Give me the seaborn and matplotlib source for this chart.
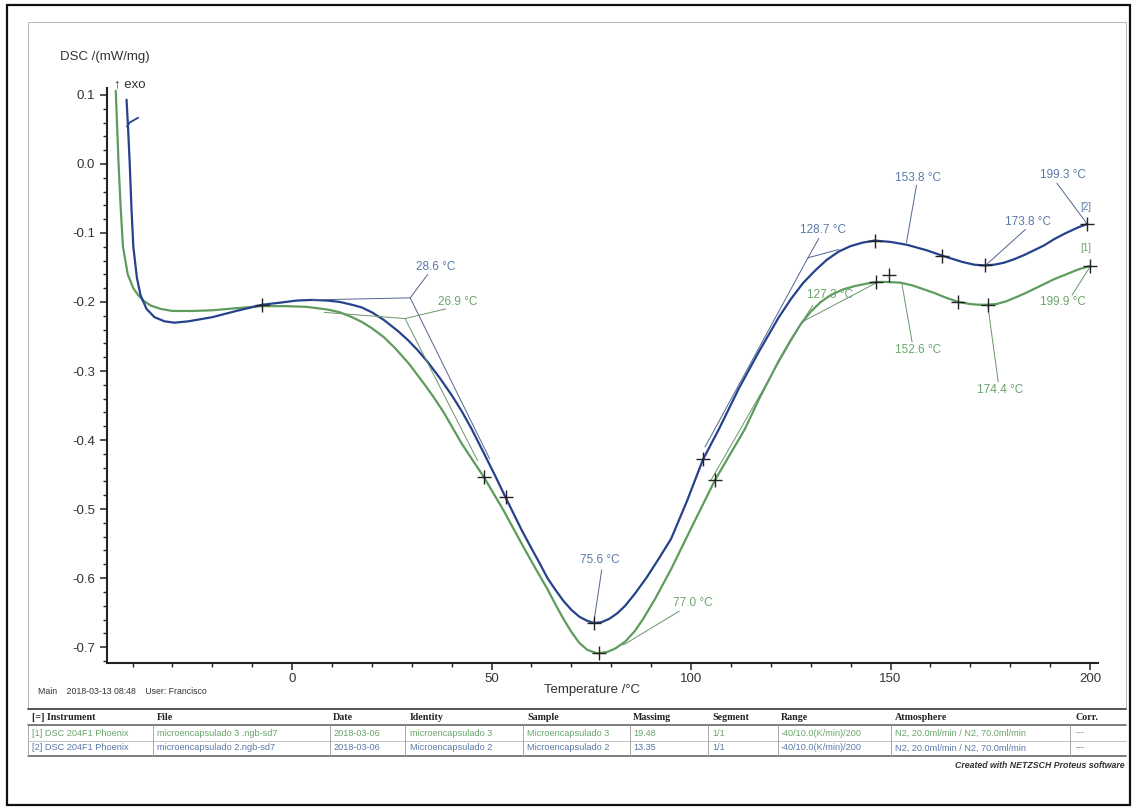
import pandas as pd
import seaborn as sns
import matplotlib.pyplot as plt
from matplotlib.lines import Line2D
from matplotlib.patches import Rectangle
from matplotlib.ticker import MultipleLocator

sns.set_style("white")
plt.rcParams['font.family'] = ['Liberation Sans', 'DejaVu Sans']

# ---- curve data (Temperature /°C, DSC /(mW/mg)) ----
blue_T = [-41.5, -41.1, -40.7, -40.3, -39.8, -38.9, -38.0, -36.5, -34.5, -32.0, -29.5,
          -26.0, -20.0, -14.0, -7.5, -3.0, 1.0, 5.0, 9.0, 12.0, 15.0, 17.5, 20.0, 23.0,
          26.5, 29.0, 31.5, 34.0, 37.0, 40.0, 42.5, 45.0, 48.5, 51.0, 53.5, 57.5, 60.0,
          62.0, 64.0, 66.0, 68.0, 70.0, 72.0, 74.0, 75.6, 77.5, 79.5, 81.5, 83.5, 86.0,
          89.0, 92.0, 95.0, 99.0, 103.0, 107.0, 112.0, 117.0, 122.0, 125.0, 128.0, 131.0,
          134.0, 137.0, 140.0, 143.0, 146.0, 150.0, 154.0, 159.0, 163.0, 168.0, 171.0,
          173.5, 176.0, 178.5, 181.0, 183.5, 186.0, 188.5, 191.0, 194.0, 197.0, 199.3]
blue_v = [0.093, 0.05, 0.0, -0.06, -0.12, -0.165, -0.19, -0.21, -0.222, -0.228, -0.230,
          -0.228, -0.222, -0.213, -0.204, -0.201, -0.198, -0.197, -0.198, -0.200, -0.204,
          -0.208, -0.215, -0.226, -0.242, -0.255, -0.270, -0.287, -0.310, -0.335, -0.358,
          -0.384, -0.424, -0.453, -0.483, -0.530, -0.557, -0.578, -0.600, -0.617, -0.633,
          -0.646, -0.656, -0.662, -0.665, -0.664, -0.659, -0.651, -0.640, -0.622, -0.598,
          -0.571, -0.543, -0.488, -0.428, -0.384, -0.325, -0.272, -0.222, -0.196, -0.173,
          -0.155, -0.139, -0.127, -0.119, -0.114, -0.111, -0.113, -0.117, -0.125, -0.133,
          -0.142, -0.146, -0.147, -0.146, -0.143, -0.138, -0.132, -0.125, -0.118, -0.109,
          -0.100, -0.092, -0.087]

green_T = [-44.2, -43.9, -43.5, -43.0, -42.4, -41.2, -39.8, -38.6, -37.3, -35.5, -33.0,
           -30.0, -25.0, -20.0, -14.0, -7.5, -2.0, 3.5, 9.0, 12.0, 15.0, 17.5, 20.0, 23.0,
           26.0, 29.5, 33.0, 35.5, 38.0, 40.0, 42.5, 45.0, 48.0, 53.0, 58.0, 61.0, 64.0,
           66.0, 68.0, 70.0, 72.0, 74.0, 76.5, 79.0, 81.0, 83.5, 86.0, 88.0, 91.0, 95.0,
           100.0, 106.0, 113.5, 117.0, 122.0, 125.0, 127.5, 130.0, 132.5, 135.0, 138.0,
           141.0, 143.5, 146.3, 149.0, 152.5, 155.5, 158.0, 161.0, 164.0, 167.0, 170.0,
           172.0, 174.0, 176.5, 179.0, 181.5, 183.5, 186.0, 188.5, 191.0, 194.0, 197.0,
           199.9]
green_v = [0.106, 0.06, 0.0, -0.06, -0.12, -0.16, -0.18, -0.19, -0.198, -0.205, -0.210,
           -0.213, -0.213, -0.212, -0.209, -0.206, -0.206, -0.207, -0.211, -0.215, -0.222,
           -0.229, -0.238, -0.251, -0.268, -0.291, -0.318, -0.338, -0.360, -0.380, -0.405,
           -0.427, -0.453, -0.502, -0.555, -0.586, -0.616, -0.638, -0.659, -0.678, -0.694,
           -0.704, -0.709, -0.707, -0.702, -0.692, -0.676, -0.659, -0.630, -0.587, -0.528,
           -0.458, -0.384, -0.341, -0.285, -0.255, -0.232, -0.214, -0.200, -0.190, -0.182,
           -0.177, -0.174, -0.171, -0.171, -0.172, -0.176, -0.181, -0.187, -0.194, -0.200,
           -0.203, -0.204, -0.204, -0.203, -0.199, -0.193, -0.188, -0.181, -0.174, -0.167,
           -0.160, -0.153, -0.148]

# evaluation markers (+)
blue_cross_T = [-7.5, 53.5, 75.6, 103.0, 146.0, 163.0, 173.8, 199.3]
blue_cross_v = [-0.204, -0.483, -0.665, -0.428, -0.111, -0.133, -0.147, -0.087]
green_cross_T = [48.0, 77.0, 106.0, 146.3, 149.5, 167.0, 174.4, 199.9]
green_cross_v = [-0.453, -0.709, -0.458, -0.171, -0.161, -0.200, -0.204, -0.148]

# annotation labels: text, T, v
blue_labels = [("28.6 °C", 36.0, -0.150), ("128.7 °C", 133.0, -0.096),
               ("153.8 °C", 156.9, -0.020), ("173.8 °C", 184.5, -0.084),
               ("199.3 °C", 193.2, -0.016), ("75.6 °C", 77.2, -0.574)]
green_labels = [("26.9 °C", 41.6, -0.200), ("127.3 °C", 134.8, -0.190),
                ("152.6 °C", 156.9, -0.270), ("174.4 °C", 177.4, -0.328),
                ("199.9 °C", 193.2, -0.200), ("77.0 °C", 100.5, -0.636)]

# leader / tangent construction lines: (T0, v0, T1, v1)
blue_leaders = [(5, -0.197, 29.6, -0.194), (29.6, -0.194, 49.5, -0.427),
                (29.6, -0.194, 34.0, -0.160), (129.3, -0.136, 103.5, -0.41),
                (129.3, -0.136, 137.0, -0.124), (129.3, -0.136, 132.0, -0.108),
                (156.5, -0.031, 154.0, -0.114), (183.8, -0.095, 174.0, -0.146),
                (191.7, -0.028, 199.3, -0.087), (77.6, -0.588, 75.6, -0.665)]
green_leaders = [(8, -0.215, 28.3, -0.224), (28.3, -0.224, 46.5, -0.43),
                 (28.3, -0.224, 38.5, -0.210), (127.8, -0.229, 146.5, -0.172),
                 (127.8, -0.229, 105.0, -0.458), (127.8, -0.229, 130.5, -0.205),
                 (155.4, -0.258, 152.8, -0.172), (177.0, -0.316, 174.4, -0.206),
                 (195.5, -0.190, 199.9, -0.150), (97.0, -0.648, 83.0, -0.697)]

# pen mark near the start of curve [2]
hook_T = [-41.4, -40.7, -38.6]
hook_v = [0.054, 0.060, 0.067]

# result table
columns = ["[=] Instrument", "File", "Date", "Identity", "Sample", "Massimg",
           "Segment", "Range", "Atmosphere", "Corr."]
row1 = ["[1] DSC 204F1 Phoenix", "microencapsulado 3 .ngb-sd7", "2018-03-06",
        "microencapsulado 3", "Microencapsulado 3", "19.48", "1/1",
        "-40/10.0(K/min)/200", "N2, 20.0ml/min / N2, 70.0ml/min", "---"]
row2 = ["[2] DSC 204F1 Phoenix", "microencapsulado 2.ngb-sd7", "2018-03-06",
        "Microencapsulado 2", "Microencapsulado 2", "13.35", "1/1",
        "-40/10.0(K/min)/200", "N2, 20.0ml/min / N2, 70.0ml/min", "---"]

BLUE = "#26428c"
GREEN = "#5e9c5e"
BLUE_TXT = "#5a78a8"
GREEN_TXT = "#6aa46a"

W, H = 1137, 810
fig = plt.figure(figsize=(W / 100, H / 100), dpi=100)


def fx(x):
    return x / W


def fy(y):
    return 1 - y / H


ax = fig.add_axes([fx(107), fy(663), fx(1098) - fx(107), fy(88) - fy(663)])

df_b = pd.DataFrame({"T": blue_T, "v": blue_v})
df_g = pd.DataFrame({"T": green_T, "v": green_v})
sns.lineplot(data=df_g, x="T", y="v", ax=ax, color=GREEN, lw=1.6, sort=False, estimator=None)
sns.lineplot(data=df_b, x="T", y="v", ax=ax, color=BLUE, lw=1.6, sort=False, estimator=None)
ax.plot(hook_T, hook_v, color=BLUE, lw=1.3)

for x0, y0, x1, y1 in blue_leaders:
    ax.plot([x0, x1], [y0, y1], color="#50658f", lw=0.7)
for x0, y0, x1, y1 in green_leaders:
    ax.plot([x0, x1], [y0, y1], color="#6a946a", lw=0.7)

ax.scatter(blue_cross_T, blue_cross_v, marker="+", s=90, color="#222222", lw=1.0, zorder=5)
ax.scatter(green_cross_T, green_cross_v, marker="+", s=90, color="#222222", lw=1.0, zorder=5)

for t, x, y in blue_labels:
    ax.text(x, y, t, color=BLUE_TXT, fontsize=8.5, ha="center", va="center")
for t, x, y in green_labels:
    ax.text(x, y, t, color=GREEN_TXT, fontsize=8.5, ha="center", va="center")
ax.text(199.0, -0.063, "[2]", color=BLUE_TXT, fontsize=7, ha="center", va="center")
ax.text(199.0, -0.122, "[1]", color=GREEN_TXT, fontsize=7, ha="center", va="center")

ax.set_xlim(-46.4, 202.0)
ax.set_ylim(-0.723, 0.110)
ax.set_xticks([0, 50, 100, 150, 200])
ax.xaxis.set_minor_locator(MultipleLocator(10))
ax.set_yticks([0.1, 0.0, -0.1, -0.2, -0.3, -0.4, -0.5, -0.6, -0.7])
ax.set_yticklabels(["0.1", "0.0", "-0.1", "-0.2", "-0.3", "-0.4", "-0.5", "-0.6", "-0.7"])
ax.yaxis.set_minor_locator(MultipleLocator(0.02))
ax.tick_params(axis="both", which="major", direction="out", length=5, width=1.1,
               color="#222222", labelsize=9.5, labelcolor="#333333")
ax.tick_params(axis="x", which="major", pad=2)
ax.tick_params(axis="both", which="minor", direction="out", length=3, width=1.0,
               color="#222222")
ax.tick_params(axis="y", which="both", left=True)
ax.tick_params(axis="x", which="both", bottom=True)
ax.set_xlabel("")
ax.set_ylabel("")
for s in ["top", "right"]:
    ax.spines[s].set_visible(False)
for s in ["left", "bottom"]:
    ax.spines[s].set_color("#222222")
    ax.spines[s].set_linewidth(1.5)
ax.patch.set_alpha(0)

# axis titles and header texts
fig.text(fx(60), fy(57), "DSC /(mW/mg)", fontsize=9.5, color="#333333", va="center")
fig.text(fx(114), fy(84), "↑ exo", fontsize=9.5, color="#333333", va="center")
fig.text(fx(592), fy(690), "Temperature /°C", fontsize=9.5, color="#333333",
         ha="center", va="center")
fig.text(fx(38), fy(692), "Main    2018-03-13 08:48    User: Francisco", fontsize=6.3,
         color="#333333", va="center")

# page border and chart frame
fig.add_artist(Rectangle((fx(7), fy(805)), fx(1130) - fx(7), fy(5) - fy(805),
                         transform=fig.transFigure, fill=False, ec="#111111", lw=1.6))
fig.add_artist(Rectangle((fx(28), fy(708)), fx(1126) - fx(28), fy(22) - fy(708),
                         transform=fig.transFigure, fill=False, ec="#b0b0b0", lw=0.6))

# result table
col_x = [32, 157, 333, 410, 527, 633, 712, 781, 895, 1076]
sep_x = [153, 330, 405, 523, 630, 708, 778, 891, 1070]
for y, lw, c in [(709, 1.4, "#555555"), (725, 1.2, "#666666"), (741, 0.5, "#aaaaaa"),
                 (756, 1.2, "#666666")]:
    fig.add_artist(Line2D([fx(28), fx(1126)], [fy(y), fy(y)], transform=fig.transFigure,
                          color=c, lw=lw))
for x in [28] + sep_x:
    fig.add_artist(Line2D([fx(x), fx(x)], [fy(725), fy(756)], transform=fig.transFigure,
                          color="#999999", lw=0.6))
for x, t in zip(col_x, columns):
    fig.text(fx(x), fy(717), t, fontsize=7.2, fontweight="bold", color="#222222",
             family="Liberation Serif", va="center")
for x, t in zip(col_x, row1):
    fig.text(fx(x), fy(733), t, fontsize=6.6, color=GREEN_TXT, va="center")
for x, t in zip(col_x, row2):
    fig.text(fx(x), fy(748), t, fontsize=6.6, color=BLUE_TXT, va="center")
fig.text(fx(1125), fy(766), "Created with NETZSCH Proteus software", fontsize=6.3,
         fontstyle="italic", fontweight="bold", color="#333333", ha="right", va="center")

fig.savefig("out.png", dpi=100)
